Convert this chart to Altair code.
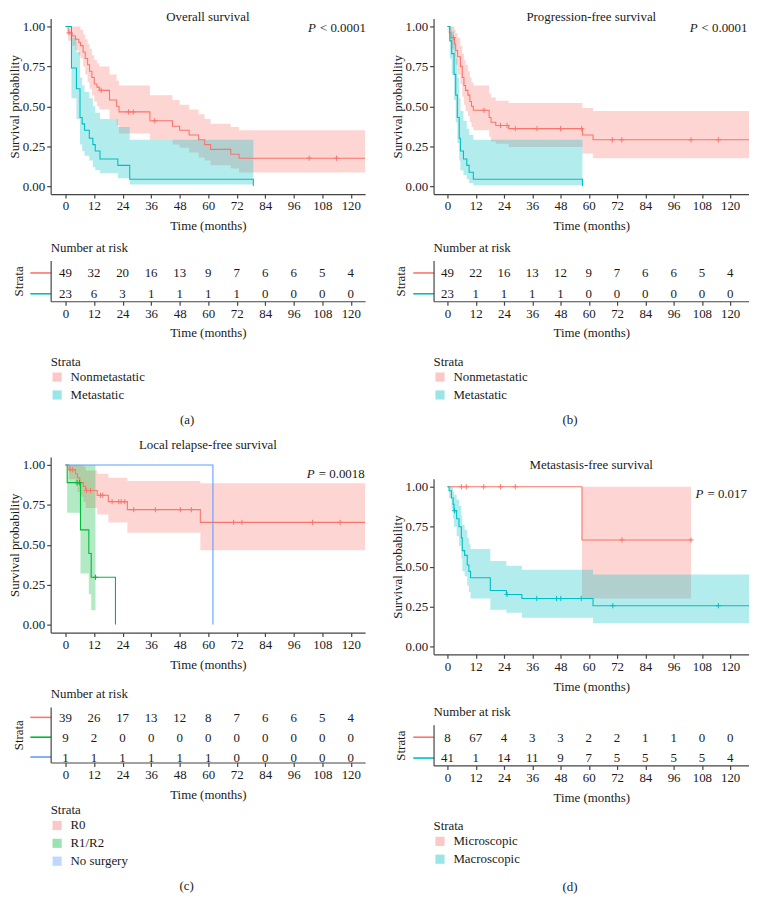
import altair as alt
import pandas as pd

FONT = "Liberation Serif"
TXT = "#1a1a1a"
AX = "#444444"
RED, CYAN, GREEN, BLUE = "#F8766D", "#00BFC4", "#00BA38", "#619CFF"

TIME_TICKS = [0, 12, 24, 36, 48, 60, 72, 84, 96, 108, 120]
Y_TICKS = [0.0, 0.25, 0.5, 0.75, 1.0]

# ---------------- (a) Overall survival ----------------
A_TITLE = "Overall survival"
A_STRATA = ["Nonmetastatic", "Metastatic"]
A_PVAL = "< 0.0001"
A_PPOS = [102.0, 0.99]
a_non_t = [0, 1.1, 2.8, 4.2, 5.6, 6.3, 7.4, 8.3, 9.3, 10.1, 11.1, 12.1, 13.2, 14.2,
           18.5, 21.5, 22.5, 35.5, 45, 48, 52, 56, 58.5, 61, 69.5, 73, 126]
a_non_s = [1, 0.96, 0.94, 0.92, 0.90, 0.88, 0.84, 0.80, 0.76, 0.72, 0.68, 0.64, 0.62, 0.60,
           0.54, 0.50, 0.465, 0.41, 0.375, 0.35, 0.32, 0.29, 0.26, 0.23, 0.20, 0.175, 0.175]
a_non_hi = [1, 1, 1, 1, 1, 0.98, 0.95, 0.92, 0.89, 0.86, 0.82, 0.79, 0.77, 0.75,
            0.70, 0.66, 0.63, 0.57, 0.54, 0.51, 0.48, 0.45, 0.42, 0.39, 0.37, 0.35, 0.35]
a_non_lo = [1, 0.91, 0.88, 0.85, 0.82, 0.80, 0.75, 0.70, 0.65, 0.61, 0.57, 0.53, 0.50, 0.48,
            0.42, 0.38, 0.33, 0.29, 0.26, 0.24, 0.21, 0.18, 0.16, 0.13, 0.11, 0.085, 0.085]
a_non_ct = [1.5, 15, 26.5, 28.5, 37.5, 102.5, 114]
a_non_cs = [0.96, 0.60, 0.465, 0.465, 0.41, 0.175, 0.175]
a_met_t = [0, 2.5, 4.6, 6.1, 7, 8, 10, 11.5, 12.5, 14.5, 22, 27, 79]
a_met_s = [1, 0.74, 0.61, 0.43, 0.39, 0.35, 0.30, 0.26, 0.22, 0.17, 0.13, 0.043, 0.0]
a_met_hi = [1, 0.93, 0.84, 0.68, 0.63, 0.59, 0.55, 0.50, 0.46, 0.42, 0.37, 0.29, 0.29]
a_met_lo = [1, 0.55, 0.42, 0.26, 0.22, 0.19, 0.16, 0.12, 0.10, 0.08, 0.05, 0.01, 0.01]
a_met_ct = []
a_met_cs = []
a_risk_non = [49, 32, 20, 16, 13, 9, 7, 6, 6, 5, 4]
a_risk_met = [23, 6, 3, 1, 1, 1, 1, 0, 0, 0, 0]

# ---------------- (b) Progression-free survival ----------------
B_TITLE = "Progression-free survival"
B_STRATA = ["Nonmetastatic", "Metastatic"]
B_PVAL = "< 0.0001"
B_PPOS = [102.8, 0.99]
b_non_t = [0, 0.8, 1.5, 3, 3.5, 4.3, 5.5, 6.3, 7, 7.7, 8.7, 9.5, 10.2, 11, 17.7, 18.5,
           20.5, 26, 57.3, 61.8, 128]
b_non_s = [1, 0.96, 0.93, 0.89, 0.85, 0.81, 0.75, 0.68, 0.63, 0.60, 0.57, 0.53, 0.50, 0.475,
           0.43, 0.40, 0.38, 0.36, 0.32, 0.29, 0.29]
b_non_hi = [1, 1, 1, 0.98, 0.96, 0.93, 0.88, 0.83, 0.79, 0.76, 0.72, 0.68, 0.65, 0.63, 0.58,
            0.555, 0.535, 0.52, 0.49, 0.47, 0.47]
b_non_lo = [1, 0.91, 0.86, 0.81, 0.76, 0.70, 0.64, 0.56, 0.51, 0.47, 0.44, 0.40, 0.37, 0.35,
            0.31, 0.28, 0.265, 0.245, 0.205, 0.175, 0.175]
b_non_ct = [2.5, 15.5, 22.5, 25.3, 28.8, 38, 48, 57, 70, 74, 103.4, 115]
b_non_cs = [0.93, 0.475, 0.38, 0.38, 0.36, 0.36, 0.36, 0.36, 0.29, 0.29, 0.29, 0.29]
b_met_t = [0, 1, 1.8, 2.8, 3.5, 4.2, 5, 5.5, 6.8, 8.2, 9.2, 11, 57.3]
b_met_s = [1, 0.91, 0.83, 0.70, 0.57, 0.43, 0.30, 0.22, 0.17, 0.13, 0.087, 0.043, 0.0]
b_met_hi = [1, 1, 0.97, 0.90, 0.80, 0.68, 0.55, 0.47, 0.41, 0.36, 0.32, 0.29, 0.29]
b_met_lo = [1, 0.80, 0.70, 0.54, 0.40, 0.27, 0.16, 0.10, 0.07, 0.045, 0.02, 0.006, 0.006]
b_met_ct = []
b_met_cs = []
b_risk_non = [49, 22, 16, 13, 12, 9, 7, 6, 6, 5, 4]
b_risk_met = [23, 1, 1, 1, 1, 0, 0, 0, 0, 0, 0]

# ---------------- (c) Local relapse-free survival ----------------
C_TITLE = "Local relapse-free survival"
C_STRATA = ["R0", "R1/R2", "No surgery"]
C_PVAL = "= 0.0018"
C_PPOS = [101.5, 0.94]
c_r0_t = [0, 1.5, 4.2, 5, 6, 7.5, 8.5, 13.3, 18, 26, 56.7, 126]
c_r0_s = [1, 0.97, 0.945, 0.92, 0.89, 0.865, 0.84, 0.81, 0.77, 0.72, 0.64, 0.64]
c_r0_hi = [1, 1, 1, 1, 1, 0.99, 0.965, 0.945, 0.92, 0.90, 0.885, 0.885]
c_r0_lo = [1, 0.91, 0.87, 0.83, 0.80, 0.77, 0.73, 0.69, 0.64, 0.575, 0.465, 0.465]
c_r0_ct = [2, 3, 8.8, 10.5, 14.7, 15.7, 19.6, 22.4, 23.4, 24.9, 28.7, 37.8, 48.3, 52.9,
           70.7, 74.2, 103.9, 115.5]
c_r0_cs = [0.97, 0.97, 0.84, 0.84, 0.81, 0.81, 0.77, 0.77, 0.77, 0.77, 0.72, 0.72, 0.72, 0.72,
           0.64, 0.64, 0.64, 0.64]
c_r12_t = [0, 0.7, 6.3, 9.8, 10.8, 21]
c_r12_s = [1, 0.889, 0.593, 0.445, 0.296, 0.0]
c_r12_bt = [0, 0.7, 6.3, 9.8, 10.8, 12.6]
c_r12_hi = [1, 1, 1, 1, 1, 1]
c_r12_lo = [1, 0.70, 0.32, 0.19, 0.09, 0.09]
c_r12_ct = [4.9, 5.9, 12.6]
c_r12_cs = [0.889, 0.889, 0.296]
c_nos_t = [0, 62]
c_nos_s = [1, 0.0]
c_risk_r0 = [39, 26, 17, 13, 12, 8, 7, 6, 6, 5, 4]
c_risk_r12 = [9, 2, 0, 0, 0, 0, 0, 0, 0, 0, 0]
c_risk_nos = [1, 1, 1, 1, 1, 1, 0, 0, 0, 0, 0]

# ---------------- (d) Metastasis-free survival ----------------
D_TITLE = "Metastasis-free survival"
D_STRATA = ["Microscopic", "Macroscopic"]
D_PVAL = "= 0.017"
D_PPOS = [105.3, 0.956]
d_mic_t = [0, 57.1, 103.4]
d_mic_s = [1, 0.667, 0.667]
d_mic_hi = [1, 1, 1]
d_mic_lo = [1, 0.30, 0.30]
d_mic_ct = [5.9, 8, 15.4, 22.5, 28.8, 74.1, 103.4]
d_mic_cs = [1, 1, 1, 1, 1, 0.667, 0.667]
d_mac_t = [0, 0.7, 1.7, 2.4, 2.8, 3.9, 4.9, 5.9, 6.3, 7.3, 8.4, 9.1, 9.8, 18.2, 25, 31.6,
           61.8, 128]
d_mac_s = [1, 0.975, 0.93, 0.89, 0.85, 0.80, 0.75, 0.68, 0.60, 0.57, 0.51, 0.47, 0.43, 0.35,
           0.325, 0.30, 0.255, 0.255]
d_mac_hi = [1, 1, 1, 0.97, 0.95, 0.92, 0.88, 0.82, 0.76, 0.73, 0.68, 0.64, 0.61, 0.535, 0.505,
            0.48, 0.45, 0.45]
d_mac_lo = [1, 0.93, 0.86, 0.80, 0.75, 0.69, 0.63, 0.55, 0.47, 0.44, 0.38, 0.34, 0.30, 0.23,
            0.21, 0.18, 0.145, 0.145]
d_mac_ct = [3, 25.3, 37.9, 46.3, 48.1, 56.8, 70.2, 115]
d_mac_cs = [0.85, 0.325, 0.30, 0.30, 0.30, 0.30, 0.255, 0.255]
d_risk_mic = [8, 67, 4, 3, 3, 2, 2, 1, 1, 0, 0]
d_risk_mac = [41, 1, 14, 11, 9, 7, 5, 5, 5, 5, 4]

LEFT_W, LEFT_DOM = 317, [-6.25, 126]
RIGHT_W, RIGHT_DOM = 318, [-5.9, 128]
KM_H = 177


def km_chart(title, strata, colors, curves, pval, ppos, width, xdom, title_offset):
    line_rows, band_rows, cens_rows = [], [], []
    for name, t, s, bt, lo, hi, ct, cs in curves:
        line_rows += [{"strata": name, "t": a, "s": b} for a, b in zip(t, s)]
        band_rows += [{"strata": name, "t": a, "lo": l, "hi": h} for a, l, h in zip(bt, lo, hi)]
        cens_rows += [{"strata": name, "t": a, "s": b} for a, b in zip(ct, cs)]
    cscale = alt.Scale(domain=strata, range=colors)
    xsc = alt.Scale(domain=xdom, nice=False, zero=False)
    ysc = alt.Scale(domain=[-0.05, 1.05], nice=False, zero=False)
    xax = alt.Axis(values=TIME_TICKS, title="Time (months)", tickSize=4, labelPadding=2,
                   titlePadding=7)
    yax = alt.Axis(values=Y_TICKS, format=".2f", title="Survival probability", tickSize=4,
                   labelPadding=2, titlePadding=1)
    col = alt.Color("strata:N", scale=cscale, legend=None)
    x = alt.X("t:Q", scale=xsc, axis=xax)
    band = alt.Chart(pd.DataFrame(band_rows)).mark_area(
        interpolate="step-after", opacity=0.3, clip=True
    ).encode(x=x, y=alt.Y("lo:Q", scale=ysc, axis=yax), y2="hi:Q", color=col)
    line = alt.Chart(pd.DataFrame(line_rows)).mark_line(
        interpolate="step-after", strokeWidth=1.1, clip=True
    ).encode(x=x, y=alt.Y("s:Q", scale=ysc, axis=yax), color=col)
    cens = alt.Chart(pd.DataFrame(cens_rows, columns=["strata", "t", "s"])).mark_point(
        shape="M-1,0L1,0M0,-1L0,1", size=28, filled=False, strokeWidth=1, opacity=1
    ).encode(x=x, y=alt.Y("s:Q", scale=ysc, axis=yax), color=col)
    pdf = pd.DataFrame({"t": [ppos[0]], "s": [ppos[1]]})
    p1 = alt.Chart(pdf).mark_text(text="P", fontStyle="italic", align="left",
                                  baseline="middle", font=FONT, fontSize=13, color=TXT
                                  ).encode(x=x, y=alt.Y("s:Q", scale=ysc, axis=yax))
    p2 = alt.Chart(pdf).mark_text(text=pval, align="left", dx=12, baseline="middle",
                                  font=FONT, fontSize=13, color=TXT
                                  ).encode(x=x, y=alt.Y("s:Q", scale=ysc, axis=yax))
    return alt.layer(band, line, cens, p1, p2).properties(
        width=width, height=KM_H,
        title=alt.Title(title, offset=title_offset, frame="group", anchor="middle"),
    )


def risk_chart(strata, colors, counts, width, xdom, height, pad, align, title_offset,
               legend_offset):
    rows = [{"strata": name, "t": tt, "n": str(n)}
            for name, cnt in zip(strata, counts) for tt, n in zip(TIME_TICKS, cnt)]
    df = pd.DataFrame(rows)
    conds = [{"test": "datum.value === '%s'" % s_, "value": c_}
             for s_, c_ in zip(strata[:-1], colors[:-1])]
    tick_color = {"condition": conds if len(conds) > 1 else conds[0], "value": colors[-1]}
    xsc = alt.Scale(domain=xdom, nice=False, zero=False)
    xax = alt.Axis(values=TIME_TICKS, title="Time (months)", tickSize=4, labelPadding=2,
                   titlePadding=7)
    yax = alt.Axis(title="Strata", labels=False, ticks=True, tickSize=21, tickWidth=1.6,
                   tickColor=tick_color, titlePadding=4)
    x = alt.X("t:Q", scale=xsc, axis=xax)
    y = alt.Y("strata:N", sort=strata,
              scale=alt.Scale(type="point", domain=strata, padding=pad, align=align), axis=yax)
    txt = alt.Chart(df).mark_text(font=FONT, fontSize=13, color=TXT, baseline="middle",
                                  dy=1).encode(x=x, y=y, text="n:N")
    leg = alt.Chart(df).mark_square(opacity=0).encode(
        x=x, y=y,
        color=alt.Color("strata:N", scale=alt.Scale(domain=strata, range=colors),
                        legend=alt.Legend(title="Strata", orient="bottom", direction="vertical",
                                          offset=legend_offset, symbolType="square",
                                          symbolSize=85, symbolOpacity=0.4,
                                          symbolStrokeWidth=0, rowPadding=4, titlePadding=2,
                                          padding=0, labelOffset=7)),
    )
    return alt.layer(txt, leg).properties(
        width=width, height=height,
        title=alt.Title("Number at risk", anchor="start", frame="group", offset=title_offset),
    )


def panel(km, risk, label, spacing, label_offset):
    return alt.vconcat(km, risk, spacing=spacing,
                       title=alt.Title(label, orient="bottom", offset=label_offset,
                                       anchor="middle")).resolve_scale(color="independent")


km_a = km_chart(A_TITLE, A_STRATA, [RED, CYAN],
                [(A_STRATA[0], a_non_t, a_non_s, a_non_t, a_non_lo, a_non_hi, a_non_ct, a_non_cs),
                 (A_STRATA[1], a_met_t, a_met_s, a_met_t, a_met_lo, a_met_hi, a_met_ct, a_met_cs)],
                A_PVAL, A_PPOS, LEFT_W, LEFT_DOM, -6)
risk_a = risk_chart(A_STRATA, [RED, CYAN], [a_risk_non, a_risk_met], LEFT_W, LEFT_DOM,
                    41, 0.476, 0.6, 6, 16)

km_b = km_chart(B_TITLE, B_STRATA, [RED, CYAN],
                [(B_STRATA[0], b_non_t, b_non_s, b_non_t, b_non_lo, b_non_hi, b_non_ct, b_non_cs),
                 (B_STRATA[1], b_met_t, b_met_s, b_met_t, b_met_lo, b_met_hi, b_met_ct, b_met_cs)],
                B_PVAL, B_PPOS, RIGHT_W, RIGHT_DOM, -6)
risk_b = risk_chart(B_STRATA, [RED, CYAN], [b_risk_non, b_risk_met], RIGHT_W, RIGHT_DOM,
                    41, 0.476, 0.6, 6, 16)

km_c = km_chart(C_TITLE, C_STRATA, [RED, GREEN, BLUE],
                [(C_STRATA[0], c_r0_t, c_r0_s, c_r0_t, c_r0_lo, c_r0_hi, c_r0_ct, c_r0_cs),
                 (C_STRATA[1], c_r12_t, c_r12_s, c_r12_bt, c_r12_lo, c_r12_hi, c_r12_ct, c_r12_cs),
                 (C_STRATA[2], c_nos_t, c_nos_s, [], [], [], [], [])],
                C_PVAL, C_PPOS, LEFT_W, LEFT_DOM, 5)
risk_c = risk_chart(C_STRATA, [RED, GREEN, BLUE], [c_risk_r0, c_risk_r12, c_risk_nos],
                    LEFT_W, LEFT_DOM, 56, 0.4, 0.625, 6, 3)

km_d = km_chart(D_TITLE, D_STRATA, [RED, CYAN],
                [(D_STRATA[0], d_mic_t, d_mic_s, d_mic_t, d_mic_lo, d_mic_hi, d_mic_ct, d_mic_cs),
                 (D_STRATA[1], d_mac_t, d_mac_s, d_mac_t, d_mac_lo, d_mac_hi, d_mac_ct, d_mac_cs)],
                D_PVAL, D_PPOS, RIGHT_W, RIGHT_DOM, 7)
risk_d = risk_chart(D_STRATA, [RED, CYAN], [d_risk_mic, d_risk_mac], RIGHT_W, RIGHT_DOM,
                    41, 0.476, 0.6, 6, 16)

left = alt.vconcat(panel(km_a, risk_a, "(a)", 9, 12), panel(km_c, risk_c, "(c)", 17, 12),
                   spacing=12).resolve_scale(color="independent")
right = alt.vconcat(panel(km_b, risk_b, "(b)", 9, 12), panel(km_d, risk_d, "(d)", 13, 15),
                    spacing=32).resolve_scale(color="independent")

chart = alt.hconcat(left, right, spacing=25).resolve_scale(color="independent").properties(
    padding=0
).configure_view(stroke=None).configure_axis(
    grid=False, domainColor=AX, domainWidth=1.2, tickColor=AX, tickWidth=1.2,
    labelFont=FONT, labelFontSize=13, labelColor=TXT, titleFont=FONT, titleFontSize=13,
    titleFontWeight="normal", titleColor=TXT,
).configure_title(
    font=FONT, fontSize=13, fontWeight="normal", color=TXT
).configure_legend(
    titleFont=FONT, titleFontSize=13, titleFontWeight="normal", titleColor=TXT,
    labelFont=FONT, labelFontSize=13, labelColor=TXT
)

chart.save("out.html", embed_options={"renderer": "svg", "actions": False})
